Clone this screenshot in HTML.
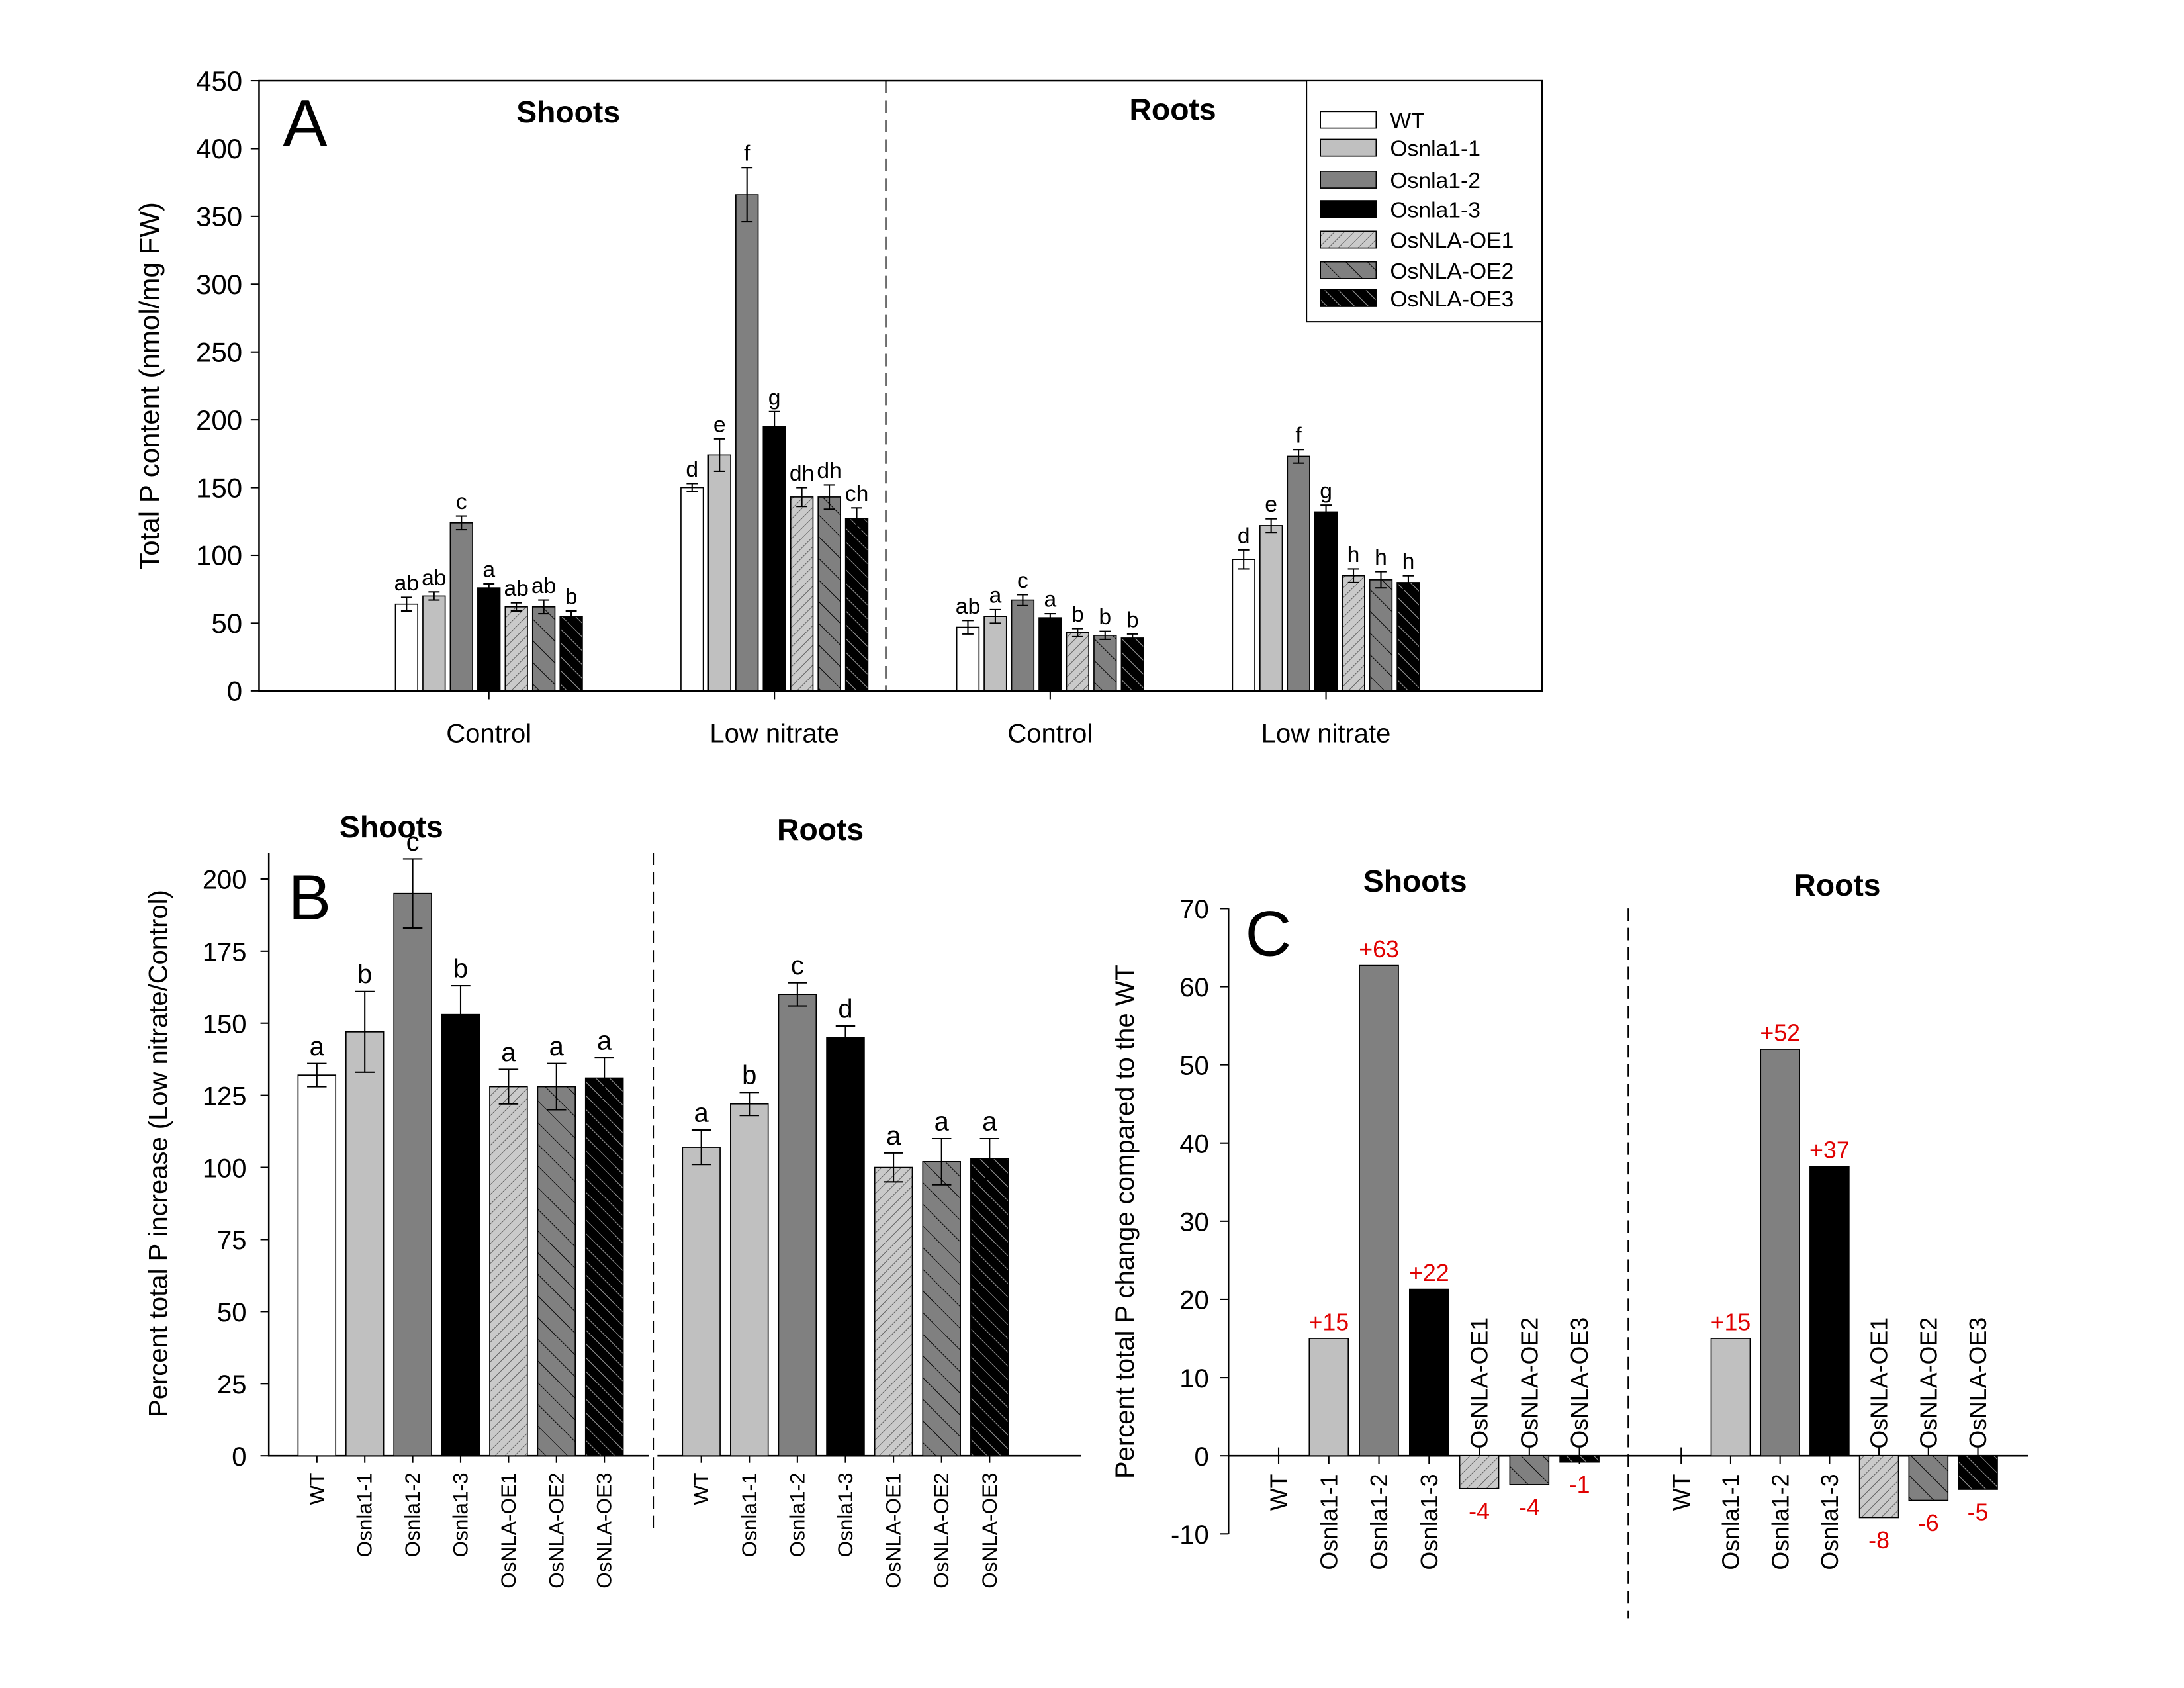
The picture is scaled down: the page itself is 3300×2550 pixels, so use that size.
<!DOCTYPE html>
<html><head><meta charset="utf-8"><style>
html,body{margin:0;padding:0;background:#fff}
svg{display:block;font-family:"Liberation Sans",Arial,sans-serif}
</style></head><body>
<svg id="fig" xmlns="http://www.w3.org/2000/svg" width="3300" height="2550" viewBox="0 0 1568 1211.7" preserveAspectRatio="none">
<defs>
<pattern id="pOE1" patternUnits="userSpaceOnUse" width="5" height="5" patternTransform="rotate(45)"><rect width="5" height="5" fill="#cacaca"/><line x1="0" y1="0" x2="0" y2="5" stroke="#505050" stroke-width="0.8"/></pattern>
<pattern id="pOE2" patternUnits="userSpaceOnUse" width="11" height="11" patternTransform="rotate(-45)"><rect width="11" height="11" fill="#808080"/><line x1="0" y1="0" x2="0" y2="11" stroke="#000" stroke-width="0.9"/></pattern>
<pattern id="pOE3" patternUnits="userSpaceOnUse" width="7" height="7" patternTransform="rotate(-45)"><rect width="7" height="7" fill="#000"/><line x1="0" y1="0" x2="0" y2="7" stroke="#9a9a9a" stroke-width="1"/></pattern>
</defs>
</svg>
<script>
// ---------- data ----------
const genotypes = ["WT","Osnla1-1","Osnla1-2","Osnla1-3","OsNLA-OE1","OsNLA-OE2","OsNLA-OE3"];
const aCategories = ["Control","Low nitrate","Control","Low nitrate"];
const aShootCtrl = [64,70,124,76,62,62,55];
const aShootCtrlErr = [5,3,5,3,3,5,4];
const aShootCtrlLet = ["ab","ab","c","a","ab","ab","b"];
const aShootLow = [150,174,366,195,143,143,127];
const aShootLowErr = [3,12,20,11,7,9,8];
const aShootLowLet = ["d","e","f","g","dh","dh","ch"];
const aRootCtrl = [47,55,67,54,43,41,39];
const aRootCtrlErr = [5,5,4,3,3,3,3];
const aRootCtrlLet = ["ab","a","c","a","b","b","b"];
const aRootLow = [97,122,173,132,85,82,80];
const aRootLowErr = [7,5,5,5,5,6,5];
const aRootLowLet = ["d","e","f","g","h","h","h"];
const aTicks = [0,50,100,150,200,250,300,350,400,450];
const bShoot = [132,147,195,153,128,128,131];
const bShootErr = [4,14,12,10,6,8,7];
const bShootLet = ["a","b","c","b","a","a","a"];
const bRoot = [107,122,160,145,100,102,103];
const bRootErr = [6,4,4,4,5,8,7];
const bRootLet = ["a","b","c","d","a","a","a"];
const bTicks = [0,25,50,75,100,125,150,175,200];
const cShoot = [0,15,62.7,21.3,-4.2,-3.7,-0.8];
const cShootLab = ["","+15","+63","+22","-4","-4","-1"];
const cRoot = [0,15,52,37,-7.9,-5.7,-4.3];
const cRootLab = ["","+15","+52","+37","-8","-6","-5"];
const cTicks = [-10,0,10,20,30,40,50,60,70];

const fills = ["#ffffff","#c0c0c0","#808080","#000000","url(#pOE1)","url(#pOE2)","url(#pOE3)"];
const NS = "http://www.w3.org/2000/svg";
const svg = document.getElementById("fig");
function mk(tag, attrs, parent){
  const e = document.createElementNS(NS, tag);
  for (const k in attrs) e.setAttribute(k, attrs[k]);
  (parent||svg).appendChild(e);
  return e;
}
function txt(s, attrs, parent){
  const e = mk("text", attrs, parent);
  e.textContent = s;
  return e;
}
function slug(s){return s.toLowerCase().replace(/[^a-z0-9]+/g,'-').replace(/^-|-$/g,'');}

// ---------- Panel A ----------
const gA = mk("g", {});


const A = {l:186, r:1107, t:58, b:496, max:450};
const yA = v => A.b - v*(A.b-A.t)/A.max;
let e = mk("rect",{x:A.l,y:A.t,width:A.r-A.l,height:A.b-A.t,fill:"none",stroke:"#000","stroke-width":1.2},gA);


e = mk("line",{x1:636,y1:A.t,x2:636,y2:A.b,stroke:"#000","stroke-width":1,"stroke-dasharray":"9,5"},gA);


aTicks.forEach(t=>{
  let tk = mk("line",{x1:A.l-6,y1:yA(t),x2:A.l,y2:yA(t),stroke:"#000","stroke-width":1},gA);
  
  
  let tl = txt(String(t),{x:A.l-12,y:yA(t)+7,"font-size":20,"text-anchor":"end"},gA);
  
  
});
const aCenters = [351,556,754,952];
const aSets = [[aShootCtrl,aShootCtrlErr,aShootCtrlLet],[aShootLow,aShootLowErr,aShootLowLet],[aRootCtrl,aRootCtrlErr,aRootCtrlLet],[aRootLow,aRootLowErr,aRootLowLet]];
aSets.forEach((set,gi)=>{
  const c = aCenters[gi];
  let tk = mk("line",{x1:c,y1:A.b,x2:c,y2:A.b+6,stroke:"#000","stroke-width":1},gA);
  
  
  let cl = txt(aCategories[gi],{x:c,y:533,"font-size":19,"text-anchor":"middle"},gA);
  
  
  set[0].forEach((v,i)=>{
    const x = c + (i-3)*19.7 - 8;
    let b = mk("rect",{x:x,y:yA(v),width:16,height:A.b-yA(v),fill:fills[i],stroke:"#000","stroke-width":0.8},gA);
    
    
    const cx = x+8, hi = yA(v+set[1][i]), lo = yA(v-set[1][i]);
    let eb = mk("path",{d:`M${cx-4},${hi}H${cx+4}M${cx},${hi}V${lo}M${cx-4},${lo}H${cx+4}`,stroke:"#000","stroke-width":1,fill:"none"},gA);
    
    
    let lt = txt(set[2][i],{x:cx,y:hi-5,"font-size":16,"text-anchor":"middle"},gA);
    
    
  });
});
e = txt("A",{x:203,y:105,"font-size":48},gA);


e = txt("Shoots",{x:408,y:88,"font-size":22,"font-weight":"bold","text-anchor":"middle"},gA);


e = txt("Roots",{x:842,y:86,"font-size":22,"font-weight":"bold","text-anchor":"middle"},gA);


e = txt("Total P content (nmol/mg FW)",{x:0,y:0,"font-size":20,"text-anchor":"middle",transform:"translate(114,277) rotate(-90)"},gA);


// legend
const gL = mk("g",{},gA);


e = mk("rect",{x:938,y:58,width:169,height:173,fill:"#fff",stroke:"#000","stroke-width":1},gL);


const legY = [86,106,129,150,172,194,214];
genotypes.forEach((g,i)=>{
  let s = mk("rect",{x:948,y:legY[i]-6,width:40,height:12,fill:fills[i],stroke:"#000","stroke-width":0.8},gL);
  
  
  let t = txt(g,{x:998,y:legY[i]+6,"font-size":16},gL);
  
  
});

// ---------- Panel B ----------
const gB = mk("g", {});


const B = {l:193, r:776, t:612, b:1045};
const yB = v => B.b - v*2.07;
e = mk("path",{d:`M${B.l},${B.t}V${B.b}H466M472,${B.b}H${B.r}`,stroke:"#000","stroke-width":1.2,fill:"none"},gB);


e = mk("line",{x1:469,y1:612,x2:469,y2:1100,stroke:"#000","stroke-width":1,"stroke-dasharray":"9,5"},gB);


bTicks.forEach(t=>{
  let tk = mk("line",{x1:B.l-6,y1:yB(t),x2:B.l,y2:yB(t),stroke:"#000","stroke-width":1},gB);
  
  
  let tl = txt(String(t),{x:B.l-16,y:yB(t)+7,"font-size":19,"text-anchor":"end"},gB);
  
  
});
const bFillsRoot = ["#c0c0c0"].concat(fills.slice(1));
[[bShoot,bShootErr,bShootLet,227.5,34.4,fills],[bRoot,bRootErr,bRootLet,503.5,34.5,bFillsRoot]].forEach(([vals,errs,lets,x0,step,fl])=>{
  vals.forEach((v,i)=>{
    const cx = x0 + i*step;
    let b = mk("rect",{x:cx-13.5,y:yB(v),width:27,height:B.b-yB(v),fill:fl[i],stroke:"#000","stroke-width":0.8},gB);
    
    
    const hi = yB(v+errs[i]), lo = yB(v-errs[i]);
    let eb = mk("path",{d:`M${cx-7},${hi}H${cx+7}M${cx},${hi}V${lo}M${cx-7},${lo}H${cx+7}`,stroke:"#000","stroke-width":1,fill:"none"},gB);
    
    
    let lt = txt(lets[i],{x:cx,y:hi-6,"font-size":19,"text-anchor":"middle"},gB);
    
    
    let tk = mk("line",{x1:cx,y1:B.b,x2:cx,y2:B.b+5,stroke:"#000","stroke-width":1},gB);
    
    
    let cl = txt(genotypes[i],{x:0,y:0,"font-size":15,"text-anchor":"end",transform:`translate(${cx+5},1057) rotate(-90)`},gB);
    
    
  });
});
e = txt("B",{x:207,y:660,"font-size":46},gB);


e = txt("Shoots",{x:281,y:601,"font-size":22,"font-weight":"bold","text-anchor":"middle"},gB);


e = txt("Roots",{x:589,y:603,"font-size":22,"font-weight":"bold","text-anchor":"middle"},gB);


e = txt("Percent total P increase (Low nitrate/Control)",{x:0,y:0,"font-size":19,"text-anchor":"middle",transform:"translate(120,828) rotate(-90)"},gB);



// ---------- Panel C ----------
const gC = mk("g", {});


const C = {l:882, r:1456, t:652, b:1101, zero:1045};
const yC = v => C.zero - v*(C.b-C.t)/80;
e = mk("path",{d:`M${C.l},${C.t}V${C.b}M${C.l},${C.zero}H${C.r}`,stroke:"#000","stroke-width":1.2,fill:"none"},gC);


e = mk("line",{x1:1169,y1:652,x2:1169,y2:1162,stroke:"#000","stroke-width":1,"stroke-dasharray":"9,5"},gC);


cTicks.forEach(t=>{
  let tk = mk("line",{x1:C.l-6,y1:yC(t),x2:C.l,y2:yC(t),stroke:"#000","stroke-width":1},gC);
  
  
  let tl = txt(String(t),{x:C.l-14,y:yC(t)+7,"font-size":19,"text-anchor":"end"},gC);
  
  
});
[[cShoot,cShootLab,918,36],[cRoot,cRootLab,1207,35.5]].forEach(([vals,labs,x0,step])=>{
  vals.forEach((v,i)=>{
    const cx = x0 + i*step;
    let tk = mk("line",{x1:cx,y1:C.zero-6,x2:cx,y2:C.zero+6,stroke:"#000","stroke-width":1},gC);
    
    
    if (v !== 0){
      const top = Math.min(yC(v),yC(0)), h = Math.abs(yC(v)-yC(0));
      let b = mk("rect",{x:cx-14,y:top,width:28,height:h,fill:fills[i],stroke:"#000","stroke-width":0.8},gC);
      
      
    }
    if (labs[i]){
      const ly = v>0 ? yC(v)-6 : yC(v)+22;
      let vl = txt(labs[i],{x:cx,y:ly,"font-size":17,fill:"#e00000","text-anchor":"middle"},gC);
      
      
    }
    let cl;
    if (i>=4){
      cl = txt(genotypes[i],{x:0,y:0,"font-size":17,"text-anchor":"start",transform:`translate(${cx+6},1040) rotate(-90)`},gC);
    } else {
      cl = txt(genotypes[i],{x:0,y:0,"font-size":17,"text-anchor":"end",transform:`translate(${cx+6},1058) rotate(-90)`},gC);
    }
    
    
  });
});
e = txt("C",{x:894,y:686,"font-size":46},gC);


e = txt("Shoots",{x:1016,y:640,"font-size":22,"font-weight":"bold","text-anchor":"middle"},gC);


e = txt("Roots",{x:1319,y:643,"font-size":22,"font-weight":"bold","text-anchor":"middle"},gC);


e = txt("Percent total P change compared to the WT",{x:0,y:0,"font-size":19,"text-anchor":"middle",transform:"translate(814,877) rotate(-90)"},gC);


</script>
</body></html>
